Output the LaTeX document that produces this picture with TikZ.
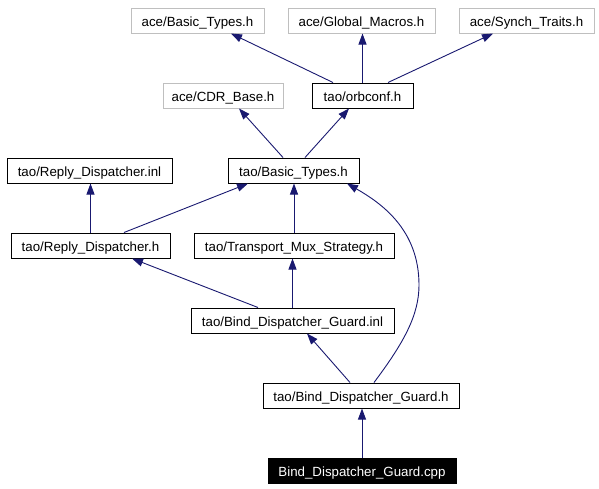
\documentclass[tikz,border=0pt]{standalone}
\usepackage{fontspec}
\setmainfont{Liberation Sans}
\usetikzlibrary{arrows.meta}
\definecolor{edgeblue}{RGB}{25,25,112}
\definecolor{greyline}{RGB}{191,191,191}
\tikzset{
  box/.style={draw=black, line width=1pt, minimum height=25pt, inner sep=0pt, text height=11.5pt, text depth=0pt, font=\fontsize{13.3}{15}\selectfont, anchor=center},
  greybox/.style={box, draw=greyline},
  darkbox/.style={box, fill=black, text=white},
  dep/.style={draw=edgeblue, line width=0.9pt, -{Triangle[length=11pt,width=8pt]}}
}
\begin{document}
\begin{tikzpicture}[x=1pt,y=-1pt]
\useasboundingbox (0,0) rectangle (599,488);
% row 1
\node[greybox, minimum width=133pt] (aceBT) at (197.5,20.5) {ace/Basic\_Types.h};
\node[greybox, minimum width=147pt] (aceGM) at (361.5,20.5) {ace/Global\_Macros.h};
\node[greybox, minimum width=135pt] (aceST) at (526.5,20.5) {ace/Synch\_Traits.h};
% row 2
\node[greybox, minimum width=120pt] (cdr) at (223,95.5) {ace/CDR\_Base.h};
\node[box, minimum width=101pt] (orb) at (362.5,95.5) {tao/orbconf.h};
% row 3
\node[box, minimum width=165pt] (rdi) at (89.5,170.5) {tao/Reply\_Dispatcher.inl};
\node[box, minimum width=131pt] (taoBT) at (293.5,170.5) {tao/Basic\_Types.h};
% row 4
\node[box, minimum width=159pt] (rdh) at (90.5,245.5) {tao/Reply\_Dispatcher.h};
\node[box, minimum width=200pt] (tms) at (294,245.5) {tao/Transport\_Mux\_Strategy.h};
% row 5
\node[box, minimum width=203pt] (bdgi) at (292.5,320.5) {tao/Bind\_Dispatcher\_Guard.inl};
% row 6
\node[box, minimum width=196pt] (bdgh) at (361,395.5) {tao/Bind\_Dispatcher\_Guard.h};
% row 7
\node[darkbox, minimum width=188pt] (cpp) at (362,470.5) {Bind\_Dispatcher\_Guard.cpp};

% edges
\draw[dep] ([xshift=-29.5pt]orb.north) -- ([xshift=33.5pt]aceBT.south);
\draw[dep] (orb.north) -- (orb.north |- aceGM.south);
\draw[dep] ([xshift=25.5pt]orb.north) -- ([xshift=-33.5pt]aceST.south);
\draw[dep] ([xshift=-10.5pt]taoBT.north) -- ([xshift=16pt]cdr.south);
\draw[dep] ([xshift=11.5pt]taoBT.north) -- ([xshift=-13.5pt]orb.south);
\draw[dep] (rdh.north) -- (rdh.north |- rdi.south);
\draw[dep] ([xshift=33.5pt]rdh.north) -- ([xshift=-45.5pt]taoBT.south);
\draw[dep] (tms.north) -- (tms.north |- taoBT.south);
\draw[dep] ([xshift=-34.5pt]bdgi.north) -- ([xshift=41.5pt]rdh.south);
\draw[dep] (bdgi.north) -- (bdgi.north |- tms.south);
\draw[dep] ([xshift=-11pt]bdgh.north) -- ([xshift=14.5pt]bdgi.south);
\draw[dep] ([xshift=13pt]bdgh.north) .. controls +(30,-40) and +(0,30) .. (419,285) .. controls +(0,-55) and +(35,20) .. ([xshift=53.5pt]taoBT.south);
\draw[dep] (cpp.north) -- (cpp.north |- bdgh.south);
\end{tikzpicture}
\end{document}
